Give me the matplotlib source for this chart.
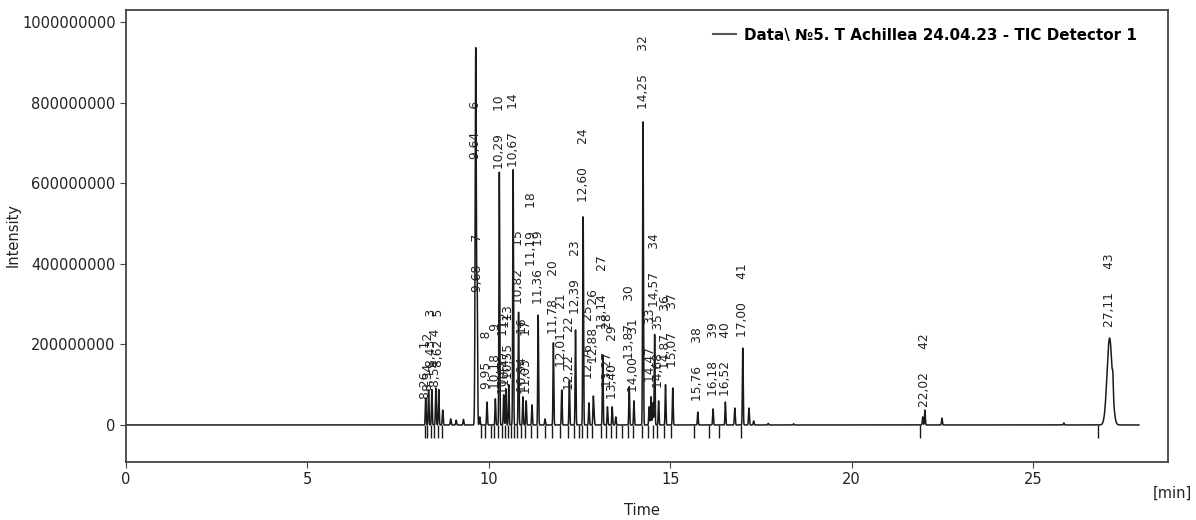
import numpy as np
import matplotlib.pyplot as plt
import matplotlib.ticker as mtick
from matplotlib.lines import Line2D

plt.rcParams.update({
    'font.family':     'DejaVu Sans',
    'axes.edgecolor':  '#444444',
    'axes.linewidth':  1.3,
    'xtick.color':     '#444444',
    'ytick.color':     '#444444',
    'xtick.labelcolor': '#222222',
    'ytick.labelcolor': '#222222',
    'xtick.major.size': 4,
    'ytick.major.size': 4,
    'xtick.labelsize': 10.5,
    'ytick.labelsize': 10.5,
})

# %% Peak table (retention time in min, intensity in millions, label level in millions)
peak_no = list(range(1, 44))
peak_rt = [8.26, 8.34, 8.43, 8.54, 8.62, 9.64, 9.68, 9.95, 10.18, 10.29,
           10.41, 10.47, 10.55, 10.67, 10.82, 10.94, 11.03, 11.19, 11.36, 11.78,
           12.01, 12.22, 12.39, 12.60, 12.76, 12.88, 13.14, 13.27, 13.40, 13.87,
           14.00, 14.25, 14.47, 14.57, 14.68, 14.87, 15.07, 15.76, 16.18, 16.52,
           17.00, 22.02, 27.11]
peak_h = [67, 87, 88, 92, 88, 937, 310, 57, 65, 628,
          75, 90, 100, 634, 280, 70, 60, 50, 273, 204,
          87, 110, 236, 517, 55, 65, 174, 45, 45, 95,
          60, 753, 70, 225, 60, 100, 92, 32, 40, 57,
          191, 37, 216]
label_lvl = [62, 82, 140, 92, 140, 658, 328, 87, 87, 634,
             75, 95, 110, 638, 298, 80, 75, 392, 298, 224,
             142, 85, 273, 551, 112, 150, 236, 92, 62, 161,
             80, 783, 104, 290, 90, 137, 140, 57, 70, 70,
             216, 42, 241]
peak_width = {6: 0.016, 43: 0.07}   # wider peaks, others 0.011

# small unlabeled peaks
minor_rt = [8.73, 8.95, 9.10, 9.30, 9.75, 11.55, 12.90, 13.50, 14.42, 14.52,
            16.78, 17.17, 17.30, 17.70, 18.40, 21.96, 22.49, 25.85, 27.20]
minor_h = [37, 15, 12, 14, 20, 15, 25, 20, 45, 55,
           42, 42, 10, 4, 3, 20, 17, 5, 37]

# integration start marks (min)
mark_t = [8.24, 8.31, 8.40, 8.50, 8.59, 8.72, 9.78, 9.90, 10.05, 10.15,
          10.26, 10.37, 10.44, 10.52, 10.62, 10.70, 10.79, 10.90, 11.00, 11.15,
          11.32, 11.55, 11.75, 11.97, 12.18, 12.35, 12.48, 12.57, 12.72, 12.84,
          13.10, 13.23, 13.36, 13.50, 13.68, 13.84, 13.97, 14.21, 14.40, 14.53,
          14.64, 14.83, 15.02, 15.65, 16.08, 16.35, 16.94, 21.88, 26.80]

# %% Build trace
t = np.arange(0, 27.92, 0.002)
y = np.zeros_like(t)
for n, rt, h in zip(peak_no, peak_rt, peak_h):
    s = peak_width.get(n, 0.011)
    y += h * 1e6 * np.exp(-0.5 * ((t - rt) / s) ** 2)
for rt, h in zip(minor_rt, minor_h):
    y += h * 1e6 * np.exp(-0.5 * ((t - rt) / 0.012) ** 2)

fig = plt.figure(figsize=(11.96, 5.20), dpi=100)
ax = fig.add_axes([126 / 1196, 1 - 462 / 520, 1042 / 1196, 452 / 520])

ax.plot(t, y, color='#1a1a1a', linewidth=1.1)
ax.vlines(mark_t, -33e6, 0, color='#1a1a1a', linewidth=1.0)

for n, rt, lvl in zip(peak_no, peak_rt, label_lvl):
    txt = f'{rt:.2f}'.replace('.', ',') + '      ' + str(n)
    ax.text(rt, lvl * 1e6 + 3e6, txt, rotation=90, ha='center', va='bottom',
            fontsize=8.8, color='#222222')

ax.set_xlim(0, 28.72)
ax.set_ylim(-92e6, 1031e6)
ax.set_xticks([0, 5, 10, 15, 20, 25])
ax.set_yticks([0, 2e8, 4e8, 6e8, 8e8, 1e9])
ax.yaxis.set_major_formatter(mtick.FuncFormatter(lambda v, _: f'{v:.0f}'))

ax.set_xlabel('Time', fontsize=10.5, color='#222222')
ax.set_ylabel('Intensity', fontsize=10.5, color='#222222')
ax.xaxis.set_label_coords((642 - 126) / 1042, -(503 - 462) / 452)
ax.yaxis.set_label_coords((21 - 126) / 1042, (462 - 235) / 452)
fig.text(1172 / 1196, 1 - 493 / 520, '[min]', ha='center', va='center',
         fontsize=10.5, color='#222222')

handle = Line2D([], [], color='#555555', linewidth=1.5)
ax.legend([handle], ['Data\\ №5. T Achillea 24.04.23 - TIC Detector 1'],
          loc='upper right', bbox_to_anchor=(1 - 24 / 1042, 1 - 10 / 452),
          frameon=False, borderpad=0, handlelength=1.5, handletextpad=0.5,
          prop={'weight': 'bold', 'size': 10.9})

plt.savefig('out.png', dpi=100)
